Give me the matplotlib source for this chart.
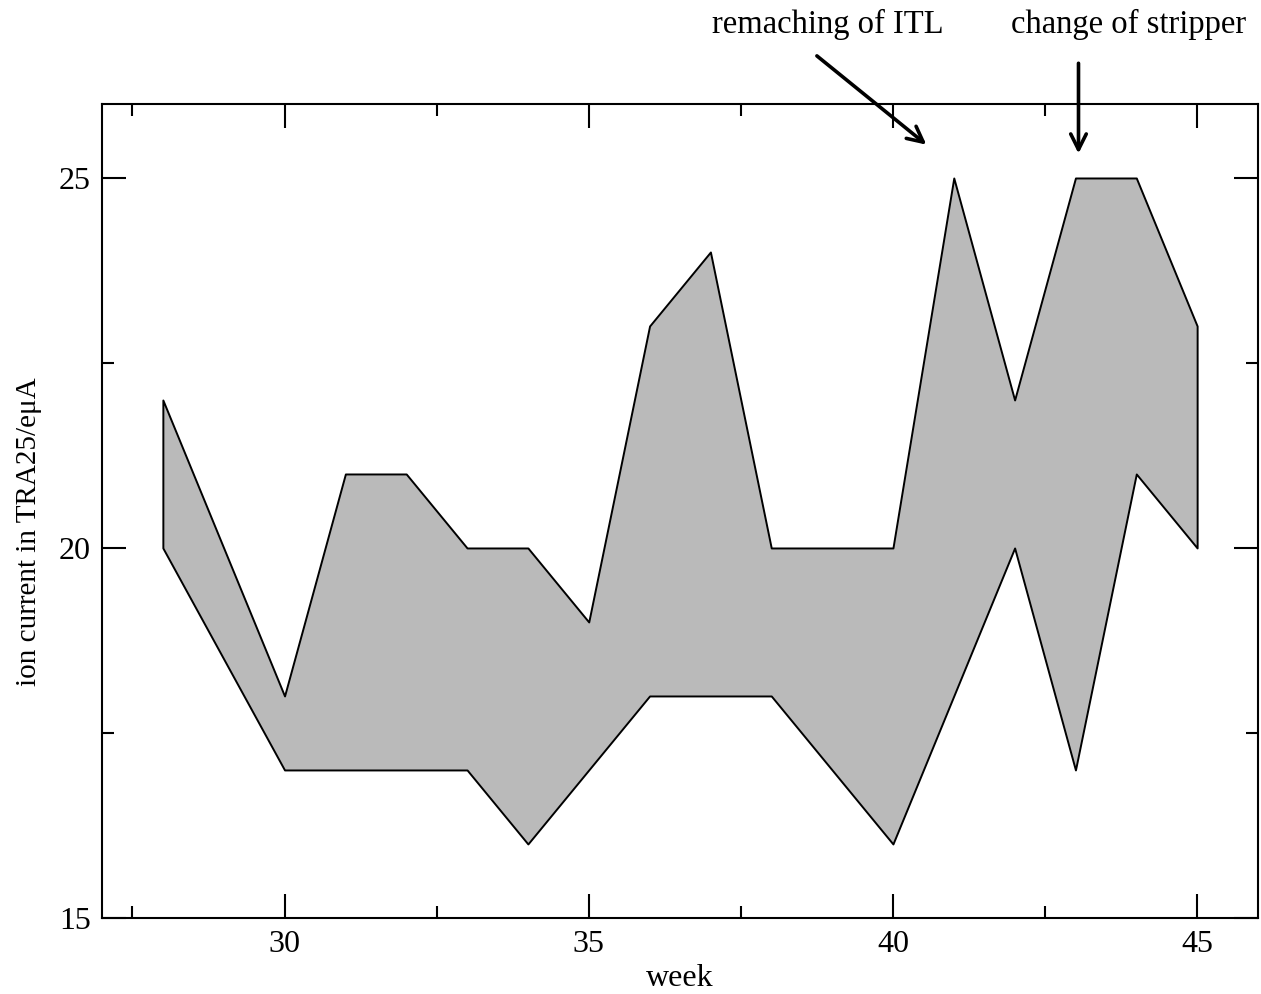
import numpy as np
import matplotlib
matplotlib.use("Agg")
import matplotlib.pyplot as plt
from matplotlib.ticker import MultipleLocator

## data
weeks = [28, 29, 30, 31, 32, 33, 34, 35, 36, 37, 38, 39, 40, 41, 42, 43, 44, 45]
upper = [22, 20, 18, 21, 21, 20, 20, 19, 23, 24, 20, 20, 20, 25, 22, 25, 25, 23]
lower = [20, 18.5, 17, 17, 17, 17, 16, 17, 18, 18, 18, 17, 16, 18, 20, 17, 21, 20]

notes = ["remaching of ITL", "change of stripper"]
note_text_xy = [(38.93, 27.07), (43.87, 27.07)]
note_arrow_from = [(38.75, 26.65), (43.05, 26.55)]
note_arrow_to = [(40.55, 25.45), (43.05, 25.33)]

plt.rcParams['font.family'] = ['Liberation Serif', 'DejaVu Serif']

fig = plt.figure(figsize=(12.61, 9.94), dpi=100)
ax = fig.add_axes([0.0809, 0.0765, 0.9167, 0.8189])

ax.fill_between(weeks, lower, upper, facecolor='#bababa', edgecolor='black',
                linewidth=1.4)

ax.set_xlim(27, 46)
ax.set_ylim(15, 26)
ax.xaxis.set_major_locator(MultipleLocator(5))
ax.xaxis.set_minor_locator(MultipleLocator(2.5))
ax.yaxis.set_major_locator(MultipleLocator(5))
ax.yaxis.set_minor_locator(MultipleLocator(2.5))

ax.tick_params(which='both', direction='in', top=True, right=True, width=1.5)
ax.tick_params(which='major', length=17.5, labelsize=23)
ax.tick_params(which='minor', length=8.5)
ax.tick_params(axis='x', which='major', pad=9)
ax.tick_params(axis='y', which='major', pad=8)
for s in ax.spines.values():
  s.set_linewidth(1.5)

ax.set_xlabel('week', fontsize=23)
ax.set_ylabel('ion current in TRA25/eμA', fontsize=21)
ax.xaxis.set_label_coords(0.5, -0.056)
ax.yaxis.set_label_coords(-0.052, 0.474)

## annotations with arrows
for i in range(len(notes)):
  ax.text(note_text_xy[i][0], note_text_xy[i][1], notes[i], fontsize=23.5,
          ha='center', va='center', clip_on=False)
  ax.annotate('', xy=note_arrow_to[i], xytext=note_arrow_from[i],
              arrowprops=dict(arrowstyle='->', lw=2.6, color='black',
                              mutation_scale=28, shrinkA=0, shrinkB=0),
              annotation_clip=False)

fig.savefig('out.png', dpi=100)
